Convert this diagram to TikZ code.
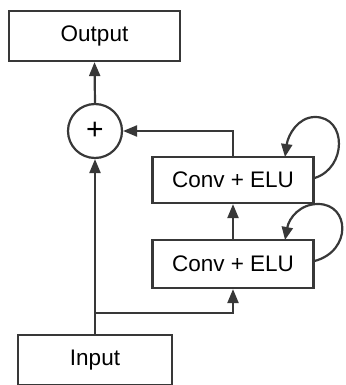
\documentclass[tikz,border=0pt]{standalone}
\usepackage{fontspec}
\setmainfont{Liberation Sans}
\usetikzlibrary{arrows.meta}
\begin{document}
\begin{tikzpicture}[x=1pt,y=-1pt,
  ln/.style={line width=2.2pt,draw=black!78},
  box/.style={ln,rectangle,inner sep=0pt,font=\fontsize{22.5}{26}\selectfont},
  arr/.style={ln,-{Triangle[length=14pt,width=11pt]}},
  loop/.style={ln,-{Triangle[length=13pt,width=11pt]}}]
\useasboundingbox (0,0) rectangle (345,385);
\node[box,minimum width=171pt,minimum height=50pt] (out) at (94.5,36) {Output};
\node[ln,circle,inner sep=0pt,minimum size=54pt,font=\fontsize{30}{30}\selectfont] (plus) at (95,131) {+};
\node[box,minimum width=161pt,minimum height=46pt] (c1) at (233,180) {Conv + ELU};
\node[box,minimum width=161pt,minimum height=48pt] (c2) at (233,264) {Conv + ELU};
\node[box,minimum width=154pt,minimum height=50pt] (in) at (95,360) {Input};
\coordinate (br) at (95,313);
\coordinate (l1s) at (c1.east |- 0,178);
\coordinate (l1e) at (285,157);
\coordinate (l2s) at (c2.east |- 0,261);
\coordinate (l2e) at (285,240);
\draw[arr] (plus.north) -- (out.south);
\draw[arr] (in.north) -- (plus.south);
\draw[arr] (br) -| (c2.south);
\draw[arr] (c2.north) -- (c1.south);
\draw[arr] (c1.north) |- (plus.east);
\draw[loop] (l1s) .. controls (347,168) and (347,117) .. (315,117) .. controls (298,117) and (288,135) .. (l1e);
\draw[loop] (l2s) .. controls (352,251) and (350,204) .. (318,204) .. controls (300,204) and (289,218) .. (l2e);
\end{tikzpicture}
\end{document}
